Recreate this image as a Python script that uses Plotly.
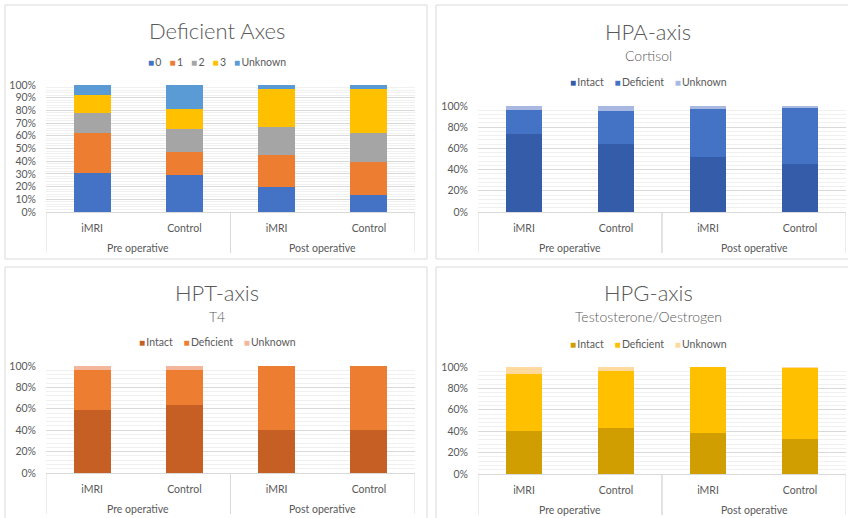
import plotly.graph_objects as go

# ---------------- data ----------------
groups = ["Pre operative", "Pre operative", "Post operative", "Post operative"]
cohorts = ["iMRI", "Control", "iMRI", "Control"]

# Deficient Axes (% of patients)
axes_0 = [30.5, 29, 20, 13.5]
axes_1 = [32, 18.5, 24.5, 25.5]
axes_2 = [15.5, 17.5, 22.5, 23]
axes_3 = [14, 16, 30, 34.5]
axes_unknown = [8, 19, 3, 3.5]

# HPA-axis (Cortisol)
hpa_intact = [74, 64.5, 52, 45]
hpa_deficient = [22.5, 31, 45, 53]
hpa_unknown = [3.5, 4.5, 3, 2]

# HPT-axis (T4)
hpt_intact = [59, 64, 40, 40.5]
hpt_deficient = [37, 32.5, 60, 59.5]
hpt_unknown = [4, 3.5, 0, 0]

# HPG-axis (Testosterone/Oestrogen)
hpg_intact = [40.5, 43, 38.5, 33]
hpg_deficient = [53, 53, 61.5, 66.5]
hpg_unknown = [6.5, 4, 0, 0.5]

W, H = 848, 518
FONT = "Lato"
TXT = "#595959"
GRID = "#D9D9D9"
MINOR = "#F0F0F0"

positions = list(range(len(cohorts)))

def px(x):
    return x / W

def py(y):
    return 1 - y / H

panels = [
    dict(title="Deficient Axes", subtitle=None,
         series=[("0", axes_0, "#4472C4"), ("1", axes_1, "#ED7D31"),
                 ("2", axes_2, "#A5A5A5"), ("3", axes_3, "#FFC000"),
                 ("Unknown", axes_unknown, "#5B9BD5")],
         xdom=(46, 415), ytop=85, ybot=212, dtick=10, minor=2,
         title_y=31, sub_y=None, leg_y=62, cx=217, box=(5, 5, 427, 259)),
    dict(title="HPA-axis", subtitle="Cortisol",
         series=[("Intact", hpa_intact, "#355CA8"), ("Deficient", hpa_deficient, "#4472C4"),
                 ("Unknown", hpa_unknown, "#A9B8E0")],
         xdom=(478, 846), ytop=106, ybot=212, dtick=20, minor=4,
         title_y=32, sub_y=55, leg_y=82, cx=648, box=(436, 5, 870, 259)),
    dict(title="HPT-axis", subtitle="T4",
         series=[("Intact", hpt_intact, "#C55F24"), ("Deficient", hpt_deficient, "#ED7D31"),
                 ("Unknown", hpt_unknown, "#F4B69A")],
         xdom=(46, 415), ytop=366, ybot=473, dtick=20, minor=4,
         title_y=292, sub_y=316, leg_y=342, cx=217, box=(5, 267, 427, 540)),
    dict(title="HPG-axis", subtitle="Testosterone/Oestrogen",
         series=[("Intact", hpg_intact, "#D09E00"), ("Deficient", hpg_deficient, "#FFC000"),
                 ("Unknown", hpg_unknown, "#FFDA9E")],
         xdom=(478, 846), ytop=367, ybot=474, dtick=20, minor=4,
         title_y=292, sub_y=316, leg_y=344, cx=648, box=(436, 267, 870, 540)),
]

fig = go.Figure()
annotations = []
shapes = []

for i, p in enumerate(panels):
    n = "" if i == 0 else str(i + 1)
    xa, ya = "x" + n, "y" + n
    for name, vals, col in p["series"]:
        fig.add_trace(go.Bar(
            x=positions, y=vals, name=name,
            customdata=[[g, c] for g, c in zip(groups, cohorts)],
            marker=dict(color=col, line=dict(width=0)),
            xaxis=xa, yaxis=ya, showlegend=False,
            hovertemplate="%{customdata[0]} %{customdata[1]}: %{y}%<extra>" + name + "</extra>",
        ))
    fig.layout["xaxis" + n] = dict(
        domain=[px(p["xdom"][0]), px(p["xdom"][1])],
        anchor=ya, range=[-0.5, len(cohorts) - 0.5], automargin=False,
        tickmode="array", tickvals=positions, ticktext=cohorts,
        showgrid=False, zeroline=False, showline=True, linecolor=GRID, linewidth=1,
        tickfont=dict(family=FONT, size=10.5, color=TXT),
        ticks="", ticklabelstandoff=6, fixedrange=True,
    )
    fig.layout["yaxis" + n] = dict(
        domain=[py(p["ybot"]), py(p["ytop"])],
        anchor=xa, range=[0, 100], dtick=p["dtick"], ticksuffix="%",
        automargin=False,
        showgrid=True, gridcolor=GRID, gridwidth=1, zeroline=False,
        showline=False, ticks="", ticklabelstandoff=9,
        minor=dict(dtick=p["minor"], showgrid=True, gridcolor=MINOR, gridwidth=1),
        tickfont=dict(family=FONT, size=10.5, color=TXT), fixedrange=True,
    )
    # group labels + dividers (two-level category axis)
    seen = []
    for g in groups:
        if g not in seen:
            seen.append(g)
    for g in seen:
        idx = [k for k, gg in enumerate(groups) if gg == g]
        annotations.append(dict(
            text=g, x=(idx[0] + idx[-1]) / 2, xref=xa, y=py(p["ybot"] + 35.5), yref="paper",
            showarrow=False, xanchor="center", yanchor="middle",
            font=dict(family=FONT, size=10.5, color=TXT)))
        for edge in (idx[0] - 0.5, idx[-1] + 0.5):
            shapes.append(dict(type="line", xref=xa, yref="paper",
                               x0=edge, x1=edge, y0=py(p["ybot"]), y1=py(p["ybot"] + 41),
                               line=dict(color=GRID, width=1)))
    # title
    annotations.append(dict(
        text=p["title"], x=px(p["cx"]), y=py(p["title_y"]), xref="paper", yref="paper",
        showarrow=False, xanchor="center", yanchor="middle",
        font=dict(family=FONT, size=22, color=TXT, weight=300)))
    if p["subtitle"]:
        annotations.append(dict(
            text=p["subtitle"], x=px(p["cx"]), y=py(p["sub_y"]), xref="paper", yref="paper",
            showarrow=False, xanchor="center", yanchor="middle",
            font=dict(family=FONT, size=14, color=TXT, weight=300)))
    # legend
    parts = []
    for name, vals, col in p["series"]:
        parts.append('<span style="color:%s;font-size:10px">■</span>&#8201;%s' % (col, name))
    sep = "&nbsp;&nbsp;&nbsp;" if i == 0 else "&nbsp;&nbsp;&nbsp;&nbsp;"
    annotations.append(dict(
        text=sep.join(parts), x=px(p["cx"]), y=py(p["leg_y"]), xref="paper", yref="paper",
        showarrow=False, xanchor="center", yanchor="middle",
        font=dict(family=FONT, size=10.5, color=TXT)))
    # panel border
    x0, y0, x1, y1 = p["box"]
    shapes.append(dict(type="rect", xref="paper", yref="paper",
                       x0=px(x0), x1=px(x1), y0=py(y0), y1=py(y1),
                       line=dict(color=GRID, width=1), layer="below"))

fig.update_layout(
    width=W, height=H, margin=dict(l=0, r=0, t=0, b=0),
    paper_bgcolor="white", plot_bgcolor="white",
    barmode="stack", bargap=0.6,
    annotations=annotations, shapes=shapes,
    font=dict(family=FONT, color=TXT),
)

fig.write_html("out.html", config={"displayModeBar": False},
               post_script="document.body.style.margin='0';document.body.style.overflow='hidden';")
